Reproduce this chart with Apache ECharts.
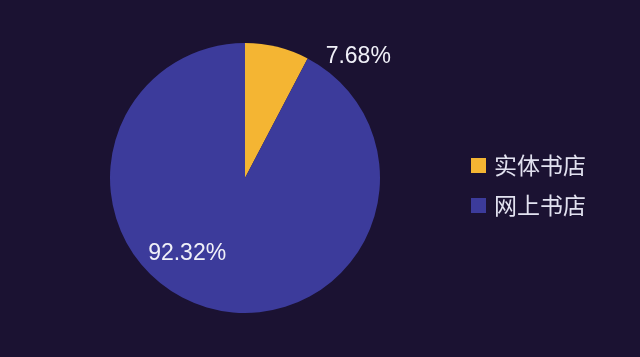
<!DOCTYPE html>
<html><head><meta charset="utf-8">
<script src="https://cdn.jsdelivr.net/npm/echarts@6/dist/echarts.min.js"></script>
<style>html,body{margin:0;padding:0;background:#1b1232;}#c{width:640px;height:357px;}</style>
</head><body><div id="c"></div>
<script>
const categories = ['实体书店', '网上书店'];
const values = [7.68, 92.32];
const colors = ['#f4b533', '#3c3b9b'];

const chart = echarts.init(document.getElementById('c'));
chart.setOption({
  backgroundColor: '#1b1232',
  animation: false,
  legend: {
    orient: 'vertical', left: 466, top: 149,
    itemWidth: 15, itemHeight: 15, itemGap: 17,
    icon: 'rect',
    textStyle: { color: '#e2e2f0', fontSize: 23, fontFamily: 'Noto Sans CJK SC', padding: [0,0,0,3] },
    data: categories
  },
  series: [{
    type: 'pie',
    center: [245, 178], radius: 135,
    startAngle: 90, clockwise: true,
    color: colors,
    data: [
      { name: categories[0], value: values[0],
        label: { position: 'outside' }, labelLine: { show: false, length: 10, length2: 10 } },
      { name: categories[1], value: values[1],
        label: { position: 'inside' } }
    ],
    labelLayout: function (p) {
      return p.dataIndex === 0 ? { dx: 31, dy: 19 } : { dx: -41, dy: 7 };
    },
    label: {
      formatter: p => p.value.toFixed(2) + '%',
      color: '#f0f0f8', fontSize: 23, fontFamily: 'Liberation Sans'
    },
    labelLine: { show: false },
    itemStyle: { borderWidth: 0 }
  }]
});
</script></body></html>
